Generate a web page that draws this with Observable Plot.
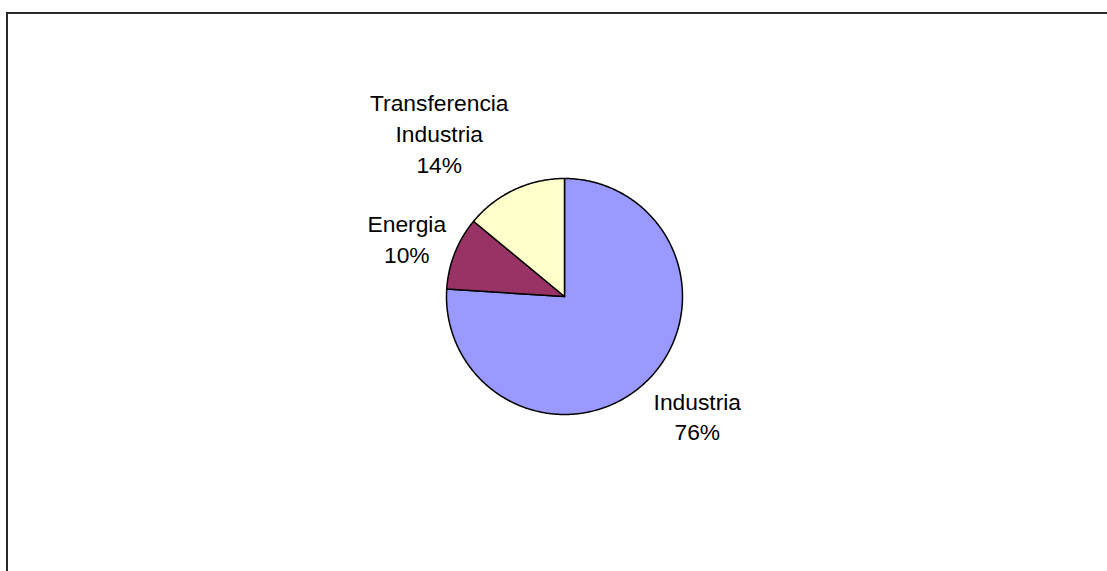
<!DOCTYPE html>
<html>
<head>
<meta charset="utf-8">
<script src="https://cdn.jsdelivr.net/npm/d3@7"></script>
<script src="https://cdn.jsdelivr.net/npm/@observablehq/plot@0.6"></script>
<style>
  html, body { margin: 0; padding: 0; background: #fff; }
  #wrap { position: relative; width: 1107px; height: 571px; overflow: hidden; background: #fff; }
  #frame { position: absolute; left: 6px; top: 12px; width: 1200px; height: 700px;
           border-left: 2px solid #2a2a2a; border-top: 2px solid #2a2a2a; box-sizing: border-box; }
  #chart { position: absolute; left: 0; top: 0; }
</style>
</head>
<body>
<div id="wrap"><div id="frame"></div><div id="chart"></div></div>
<script>
// ---- data ----
const categories = ["Industria", "Energia", "Transferencia Industria"];
const values = [76, 10, 14];
const labels = ["Industria\n76%", "Energia\n10%", "Transferencia\nIndustria\n14%"];
const colors = ["#9999FF", "#993366", "#FFFFCC"];

// ---- layout (style, pixels) ----
const W = 1107, H = 571;
const cx = 564, cy = 296, R = 118;
const labelOffsetPx = [[52, 32.5], [-48, -15.5], [-75, -57.5]]; // offset of label center from slice mid-edge

const total = d3.sum(values);
let cum = 0;
const slices = values.map((v, i) => {
  const a0 = cum / total * 2 * Math.PI;
  cum += v;
  const a1 = cum / total * 2 * Math.PI;
  return {key: categories[i], a0, a1, label: labels[i], off: labelOffsetPx[i]};
});

const poly = [];
for (const s of slices) {
  poly.push({key: s.key, x: 0, y: 0});
  const n = Math.max(2, Math.ceil((s.a1 - s.a0) / (Math.PI / 360)));
  for (let k = 0; k <= n; k++) {
    const a = s.a0 + (s.a1 - s.a0) * k / n;
    poly.push({key: s.key, x: Math.sin(a), y: Math.cos(a)});
  }
  poly.push({key: s.key, x: 0, y: 0});
}

const labelData = slices.map(s => {
  const m = (s.a0 + s.a1) / 2;
  return {text: s.label, x: Math.sin(m) + s.off[0] / R, y: Math.cos(m) - s.off[1] / R};
});

const chart = Plot.plot({
  width: W, height: H,
  marginLeft: cx - R, marginRight: W - cx - R,
  marginTop: cy - R, marginBottom: H - cy - R,
  x: {domain: [-1, 1], axis: null},
  y: {domain: [-1, 1], axis: null},
  color: {domain: categories, range: colors},
  style: {fontFamily: "'Liberation Sans', Arial, sans-serif", background: "transparent", overflow: "visible"},
  marks: [
    Plot.line(poly, {x: "x", y: "y", z: "key", fill: "key", stroke: "#000", strokeWidth: 1.5, strokeLinejoin: "round"}),
    Plot.text(labelData, {x: "x", y: "y", text: "text", fontSize: 22.8, lineHeight: 1.34, fill: "#000"})
  ]
});
document.getElementById("chart").appendChild(chart);
</script>
</body>
</html>
